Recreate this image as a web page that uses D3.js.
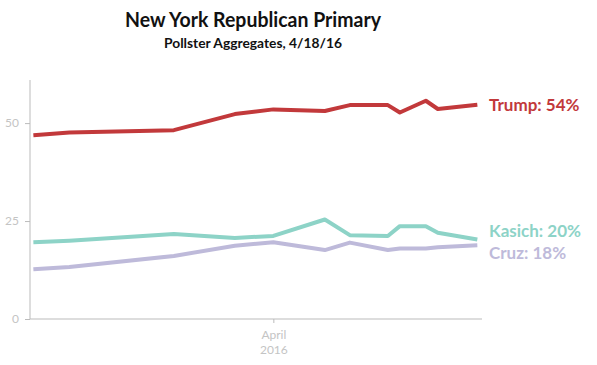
<!DOCTYPE html>
<html>
<head>
<meta charset="utf-8">
<script src="https://cdn.jsdelivr.net/npm/d3@7"></script>
<style>
  body { margin: 0; background: #fff; }
  svg { display: block; font-family: Lato, "Open Sans", sans-serif; }
  .axis text { fill: #c4c4c4; font-size: 12px; font-family: Lato, sans-serif; }
  .axis path, .axis line { stroke: #bbb; }
</style>
</head>
<body>
<div id="chart"></div>
<script>
// poll dates (local time) and aggregate values
const dates = ['2016-03-12T00:00', '2016-03-15T00:00', '2016-03-23T17:00', '2016-03-28T19:00',
    '2016-04-01T00:00', '2016-04-05T07:00', '2016-04-07T09:00', '2016-04-10T13:00',
    '2016-04-11T13:00', '2016-04-13T17:00', '2016-04-14T17:00', '2016-04-18T00:00'];
const trump  = [46.9, 47.6, 48.2, 52.3, 53.5, 53.1, 54.6, 54.6, 52.7, 55.7, 53.6, 54.7];
const kasich = [19.6, 20.0, 21.7, 20.7, 21.2, 25.4, 21.4, 21.2, 23.7, 23.7, 22.0, 20.3];
const cruz   = [12.7, 13.3, 16.1, 18.7, 19.6, 17.6, 19.5, 17.6, 18.0, 18.0, 18.3, 18.8];
const names  = ['Trump', 'Kasich', 'Cruz'];
const colors = ['#c2393b', '#8dd3c7', '#bebada'];
const endLabels = ['Trump: 54%', 'Kasich: 20%', 'Cruz: 18%'];
const yTicks = [0, 25, 50];
const xDomain = ['2016-03-11T17:15', '2016-04-18T09:20'];

const width = 597, height = 365;
const parse = d3.timeParse('%Y-%m-%dT%H:%M');

const svg = d3.select('#chart').append('svg')
    .attr('width', width)
    .attr('height', height);

const xScale = d3.scaleTime()
    .domain(xDomain.map(parse))
    .range([30, 482]);
const yScale = d3.scaleLinear()
    .domain([0, 61])
    .range([319, 80]);

// titles
svg.append('text')
    .attr('x', 253).attr('y', 27)
    .attr('text-anchor', 'middle')
    .attr('font-size', 21).attr('font-weight', 'bold')
    .attr('fill', '#111')
    .attr('textLength', 256).attr('lengthAdjust', 'spacingAndGlyphs')
    .text('New York Republican Primary');
svg.append('text')
    .attr('x', 253).attr('y', 48)
    .attr('text-anchor', 'middle')
    .attr('font-size', 14).attr('font-weight', 'bold')
    .attr('fill', '#111')
    .attr('textLength', 178).attr('lengthAdjust', 'spacingAndGlyphs')
    .text('Pollster Aggregates, 4/18/16');

// axes
const yAxis = svg.append('g')
    .attr('class', 'axis')
    .attr('transform', 'translate(30,0)')
    .call(d3.axisLeft(yScale).tickValues(yTicks).tickSize(5).tickPadding(6));
yAxis.select('.domain').attr('d', `M0,${yScale(61)}V${yScale(0)}`);

const xAxis = svg.append('g')
    .attr('class', 'axis')
    .attr('transform', 'translate(0,319)')
    .call(d3.axisBottom(xScale).tickValues([parse('2016-04-01T00:00')]).tickSize(4).tickFormat(''));
xAxis.select('.domain').attr('d', `M30,0H482`);
const aprilTick = xAxis.select('.tick');
aprilTick.append('text')
    .attr('text-anchor', 'middle')
    .attr('y', 20)
    .text('April');
aprilTick.append('text')
    .attr('text-anchor', 'middle')
    .attr('y', 34.5)
    .text('2016');

// lines
const series = [trump, kasich, cruz].map((vals, i) => ({
    name: names[i],
    color: colors[i],
    label: endLabels[i],
    values: vals.map((v, j) => ({ date: parse(dates[j]), value: v }))
}));

const line = d3.line()
    .x(d => xScale(d.date))
    .y(d => yScale(d.value));

svg.append('g').selectAll('path')
    .data(series)
    .enter().append('path')
    .attr('d', d => line(d.values))
    .attr('fill', 'none')
    .attr('stroke', d => d.color)
    .attr('stroke-width', 4)
    .attr('stroke-linejoin', 'round');

// end labels, pushed apart when they overlap
const labelPos = series.map(s => ({ s: s, y: yScale(s.values[s.values.length - 1].value) }))
    .sort((a, b) => a.y - b.y);
const gap = 22;
for (let i = 1; i < labelPos.length; i++) {
    const a = labelPos[i - 1], b = labelPos[i];
    if (b.y - a.y < gap) {
        const mid = (a.y + b.y) / 2;
        a.y = mid - gap / 2;
        b.y = mid + gap / 2;
    }
}
svg.append('g').selectAll('text')
    .data(labelPos)
    .enter().append('text')
    .attr('x', 489)
    .attr('y', d => d.y)
    .attr('dy', '0.35em')
    .attr('font-size', 17)
    .attr('font-weight', 'bold')
    .attr('fill', d => d.s.color)
    .text(d => d.s.label);
</script>
</body>
</html>
